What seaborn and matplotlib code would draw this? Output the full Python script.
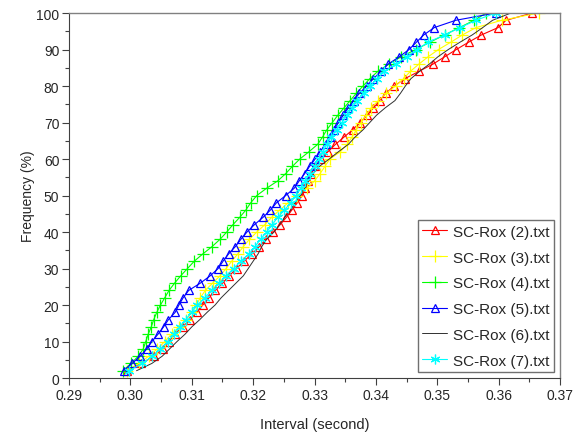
import numpy as np
import pandas as pd
import seaborn as sns
import matplotlib
matplotlib.use("Agg")
import matplotlib.pyplot as plt
from matplotlib.ticker import MultipleLocator, FormatStrFormatter

# Sorted intervals (seconds) of each capture file, one value per 2 % of the samples
percent = list(range(2, 101, 2))

rox2 = [0.2994, 0.3018, 0.3039, 0.3053, 0.3063, 0.3072, 0.3085, 0.3097, 0.3108, 0.3118,
        0.3128, 0.3138, 0.3150, 0.3161, 0.3173, 0.3185, 0.3198, 0.3210, 0.3221, 0.3233,
        0.3244, 0.3254, 0.3263, 0.3272, 0.3280, 0.3285, 0.3290, 0.3295, 0.3301, 0.3310,
        0.3322, 0.3334, 0.3348, 0.3362, 0.3374, 0.3386, 0.3396, 0.3406, 0.3416, 0.3430,
        0.3447, 0.3470, 0.3493, 0.3512, 0.3531, 0.3551, 0.3572, 0.3599, 0.3612, 0.3655]

rox3 = [0.2994, 0.3014, 0.3030, 0.3044, 0.3056, 0.3067, 0.3079, 0.3091, 0.3100, 0.3107,
        0.3114, 0.3122, 0.3134, 0.3146, 0.3156, 0.3165, 0.3175, 0.3184, 0.3194, 0.3206,
        0.3219, 0.3230, 0.3243, 0.3257, 0.3272, 0.3288, 0.3300, 0.3309, 0.3317, 0.3325,
        0.3342, 0.3353, 0.3361, 0.3368, 0.3376, 0.3384, 0.3392, 0.3404, 0.3417, 0.3432,
        0.3445, 0.3456, 0.3470, 0.3485, 0.3502, 0.3522, 0.3541, 0.3563, 0.3605, 0.3665]

rox4 = [0.2988, 0.3001, 0.3013, 0.3021, 0.3025, 0.3029, 0.3034, 0.3038, 0.3043, 0.3049,
        0.3056, 0.3063, 0.3072, 0.3082, 0.3093, 0.3104, 0.3118, 0.3133, 0.3146, 0.3157,
        0.3167, 0.3178, 0.3188, 0.3196, 0.3206, 0.3222, 0.3240, 0.3253, 0.3264, 0.3276,
        0.3291, 0.3305, 0.3313, 0.3320, 0.3329, 0.3338, 0.3348, 0.3358, 0.3368, 0.3379,
        0.3390, 0.3403, 0.3421, 0.3441, 0.3465, 0.3488, 0.3512, 0.3536, 0.3560, 0.3580]

rox5 = [0.2989, 0.3003, 0.3016, 0.3027, 0.3035, 0.3045, 0.3054, 0.3062, 0.3073, 0.3079,
        0.3086, 0.3095, 0.3114, 0.3130, 0.3143, 0.3151, 0.3160, 0.3171, 0.3180, 0.3190,
        0.3202, 0.3216, 0.3228, 0.3238, 0.3253, 0.3267, 0.3275, 0.3284, 0.3292, 0.3301,
        0.3309, 0.3318, 0.3326, 0.3332, 0.3339, 0.3347, 0.3355, 0.3364, 0.3373, 0.3385,
        0.3396, 0.3408, 0.3420, 0.3438, 0.3454, 0.3466, 0.3478, 0.3495, 0.3530, 0.3595]

rox6 = [0.3010, 0.3035, 0.3052, 0.3064, 0.3076, 0.3089, 0.3100, 0.3113, 0.3125, 0.3138,
        0.3148, 0.3160, 0.3172, 0.3184, 0.3192, 0.3200, 0.3208, 0.3214, 0.3222, 0.3234,
        0.3243, 0.3251, 0.3261, 0.3268, 0.3277, 0.3284, 0.3290, 0.3298, 0.3308, 0.3324,
        0.3339, 0.3355, 0.3366, 0.3379, 0.3390, 0.3401, 0.3415, 0.3431, 0.3440, 0.3448,
        0.3457, 0.3471, 0.3487, 0.3501, 0.3518, 0.3537, 0.3557, 0.3574, 0.3590, 0.3620]

rox7 = [0.2998, 0.3019, 0.3036, 0.3049, 0.3061, 0.3071, 0.3081, 0.3090, 0.3100, 0.3109,
        0.3121, 0.3133, 0.3145, 0.3156, 0.3168, 0.3180, 0.3193, 0.3203, 0.3212, 0.3222,
        0.3231, 0.3240, 0.3251, 0.3261, 0.3270, 0.3278, 0.3285, 0.3292, 0.3300, 0.3307,
        0.3314, 0.3320, 0.3327, 0.3336, 0.3345, 0.3353, 0.3361, 0.3370, 0.3380, 0.3390,
        0.3402, 0.3414, 0.3432, 0.3450, 0.3467, 0.3485, 0.3512, 0.3537, 0.3563, 0.3595]

files = ["SC-Rox (2).txt", "SC-Rox (3).txt", "SC-Rox (4).txt",
         "SC-Rox (5).txt", "SC-Rox (6).txt", "SC-Rox (7).txt"]
series = [rox2, rox3, rox4, rox5, rox6, rox7]

x_ticks = [0.29, 0.30, 0.31, 0.32, 0.33, 0.34, 0.35, 0.36, 0.37]
y_ticks = [0, 10, 20, 30, 40, 50, 60, 70, 80, 90, 100]

styles = {
    "SC-Rox (2).txt": dict(color="#ff0000", marker="^", markersize=6, lw=0.8),
    "SC-Rox (3).txt": dict(color="#ffff00", marker="+", markersize=8, lw=0.8),
    "SC-Rox (4).txt": dict(color="#00ff00", marker="+", markersize=8, lw=0.8),
    "SC-Rox (5).txt": dict(color="#0000ff", marker="^", markersize=6, lw=0.8),
    "SC-Rox (6).txt": dict(color="#303030", marker="", markersize=0, lw=0.7),
    "SC-Rox (7).txt": dict(color="#00ffff", marker=(6, 2, 0), markersize=7, lw=0.8),
}

frames = [pd.DataFrame({"interval": vals, "freq": percent, "file": name})
          for name, vals in zip(files, series)]
df = pd.concat(frames, ignore_index=True)

sns.set_style("white")
plt.rcParams["font.family"] = ["Liberation Sans", "DejaVu Sans"]

fig = plt.figure(figsize=(5.81, 4.35), dpi=100)
ax = fig.add_axes([0.1188, 0.1287, 0.8451, 0.8391])

for name in files:
    st = styles[name]
    sub = df[df["file"] == name]
    sns.lineplot(data=sub, x="interval", y="freq", ax=ax, sort=False, estimator=None,
                 color=st["color"], marker=st["marker"], markersize=st["markersize"],
                 fillstyle="none", markeredgecolor=st["color"], markeredgewidth=0.9,
                 linewidth=st["lw"], label=name)

ax.set_xlim(x_ticks[0], x_ticks[-1])
ax.set_ylim(y_ticks[0], y_ticks[-1])
ax.set_xticks(x_ticks)
ax.set_yticks(y_ticks)
ax.xaxis.set_major_formatter(FormatStrFormatter("%.2f"))
ax.xaxis.set_minor_locator(MultipleLocator(0.005))
ax.yaxis.set_minor_locator(MultipleLocator(5))
ax.tick_params(axis="both", which="major", direction="out", length=5, width=0.8,
               color="#404040", labelsize=10, pad=2, bottom=True, left=True)
ax.tick_params(axis="both", which="minor", direction="out", length=3, width=0.8,
               color="#404040", bottom=True, left=True)

for side in ["left", "bottom"]:
    ax.spines[side].set_color("#404040")
    ax.spines[side].set_linewidth(0.8)
for side in ["top", "right"]:
    ax.spines[side].set_color("#808080")
    ax.spines[side].set_linewidth(1.0)

ax.set_xlabel("Interval (second)", fontsize=10.5, labelpad=11)
ax.set_ylabel("Frequency (%)", fontsize=10, labelpad=1)

leg = ax.legend(loc="lower right", bbox_to_anchor=(0.988, 0.016), fontsize=11,
                frameon=True, fancybox=False, framealpha=1, edgecolor="#707070",
                handlelength=1.6, handletextpad=0.4, labelspacing=0.77,
                borderpad=0.3, borderaxespad=0)
leg.get_frame().set_linewidth(1.0)

fig.savefig("out.png", dpi=100)
